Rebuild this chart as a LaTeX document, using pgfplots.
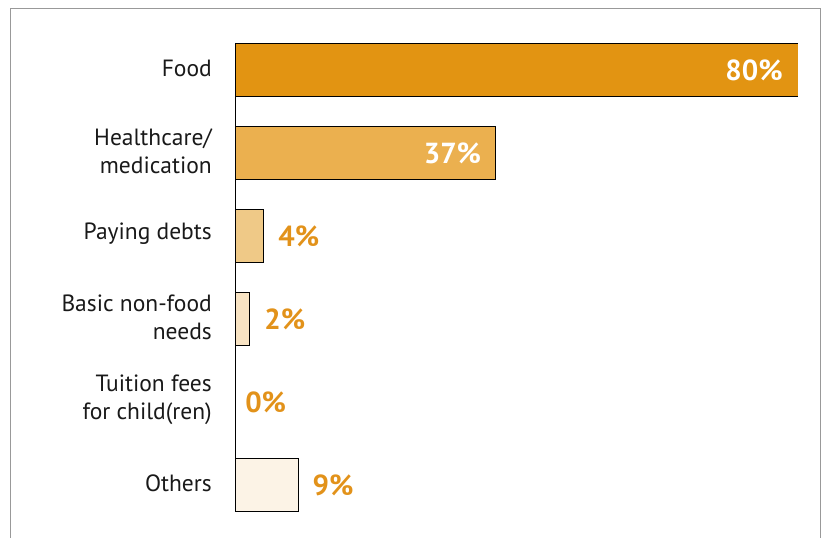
\documentclass[border=0pt]{standalone}
\usepackage{pgfplots}
\pgfplotsset{compat=1.18}
\usepackage{fontspec}
\setmainfont{PT Sans}
\definecolor{cA}{HTML}{E29412}
\definecolor{cB}{HTML}{EBB04F}
\definecolor{cC}{HTML}{EFC987}
\definecolor{cD}{HTML}{F8E3C3}
\definecolor{cE}{HTML}{FCF3E6}
\definecolor{lab}{HTML}{E2921A}
\begin{document}
\begin{tikzpicture}
\useasboundingbox (0pt,0pt) rectangle (822pt,538pt);
\draw[black!40, line width=1.3pt] (10.5pt,-5pt) -- (10.5pt,529.5pt) -- (820.5pt,529.5pt) -- (820.5pt,-5pt);
\begin{axis}[at={(235pt,27pt)}, anchor=south west, scale only axis,
  width=563pt, height=468pt,
  xmin=0, xmax=80, ymin=-0.32, ymax=5.32, y dir=reverse,
  axis x line=none, axis y line=left, axis line style={-, black, line width=0.8pt},
  ytick={0,...,5}, major tick length=0pt,
  yticklabels={Food,{Healthcare/\\medication},Paying debts,{Basic non-food\\needs},{Tuition fees\\for child(ren)},Others},
  y tick label style={align=right, inner sep=0pt, xshift=-23pt, yshift=1.5pt, font=\fontsize{23.5}{28}\selectfont, text=black!90},
  xbar, bar width=53pt, bar shift=0pt,
  /pgf/number format/assume math mode=true,
  nodes near coords={\pgfmathprintnumber{\pgfplotspointmeta}\%},
  nodes near coords style={font=\fontsize{29}{34}\selectfont\bfseries, inner sep=0pt, yshift=-1pt},
  every axis plot/.append style={draw=black, line width=0.6pt},
]
\addplot[fill=cA, nodes near coords style={white, anchor=east, xshift=-15pt}] coordinates {(80,0)};
\addplot[fill=cB, nodes near coords style={white, anchor=east, xshift=-14pt}] coordinates {(37,1)};
\addplot[fill=cC, nodes near coords style={lab, anchor=west, xshift=15pt}] coordinates {(4,2)};
\addplot[fill=cD, nodes near coords style={lab, anchor=west, xshift=15pt}] coordinates {(2,3)};
\addplot[draw=none, fill=none, nodes near coords style={lab, anchor=west, xshift=10pt}] coordinates {(0,4)};
\addplot[fill=cE, nodes near coords style={lab, anchor=west, xshift=14pt}] coordinates {(9,5)};
\end{axis}
\end{tikzpicture}
\end{document}
